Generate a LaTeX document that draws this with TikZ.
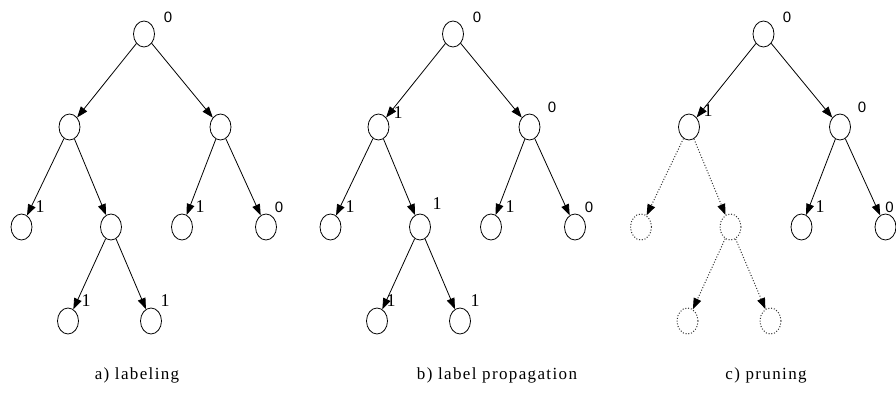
\documentclass[tikz,border=0pt]{standalone}
\usepackage{fontspec}
\setmainfont{Liberation Serif}
\newfontfamily\zerofont{Liberation Sans}
\newfontfamily\capfont[LetterSpace=8]{Liberation Serif}
\usetikzlibrary{arrows.meta,shapes.geometric}
\tikzset{
 tnode/.style={draw, ellipse, minimum width=21pt, minimum height=26pt, inner sep=0pt, line width=0.8pt},
 pnode/.style={tnode, draw=black!80, line width=1pt, dash pattern=on 1pt off 1.8pt},
 arc/.style={line width=0.8pt, -{Triangle[length=11pt,width=8pt]}},
 parc/.style={line width=1pt, draw=black!80, dash pattern=on 1pt off 1.8pt, -{Triangle[length=11pt,width=8pt,color=black]}},
 onelab/.style={font=\fontsize{18}{18}\selectfont, inner sep=0pt},
 zerolab/.style={font=\zerofont\fontsize{15}{15}\selectfont, inner sep=0pt},
 captext/.style={font=\capfont\fontsize{17}{17}\selectfont, inner sep=0pt}
}
\begin{document}
\begin{tikzpicture}[x=1pt,y=-1pt]
\useasboundingbox (0,0) rectangle (896,392);
\clip (0,0) rectangle (896,392);
% ---------- a) labeling ----------
\begin{scope}
\node[tnode] (ar) at (144,34) {};
\node[tnode] (aL) at (69.5,127) {};
\node[tnode] (aR) at (220.5,127) {};
\node[tnode] (aLL) at (21.5,227) {};
\node[tnode] (aLR) at (111,227) {};
\node[tnode] (aRL) at (182,227) {};
\node[tnode] (aRR) at (266,227) {};
\node[tnode] (aLRL) at (68,321) {};
\node[tnode] (aLRR) at (151,321) {};
\draw[arc] (ar) -- (aL);
\draw[arc] (ar) -- (aR);
\draw[arc] (aL) -- (aLL);
\draw[arc] (aL) -- (aLR);
\draw[arc] (aR) -- (aRL);
\draw[arc] (aR) -- (aRR);
\draw[arc] (aLR) -- (aLRL);
\draw[arc] (aLR) -- (aLRR);
\node[zerolab] (at0) at (168,17) {0};
\node[onelab] (at1) at (40,207) {1};
\node[onelab] (at2) at (200,207) {1};
\node[zerolab] (at3) at (279,207) {0};
\node[onelab] (at4) at (86,301) {1};
\node[onelab] (at5) at (165,301) {1};
\node[captext] (acap) at (137,375) {a) labeling};
\end{scope}
% ---------- b) label propagation ----------
\begin{scope}[xshift=309pt]
\node[tnode] (br) at (144,34) {};
\node[tnode] (bL) at (69.5,127) {};
\node[tnode] (bR) at (220.5,127) {};
\node[tnode] (bLL) at (21.5,227) {};
\node[tnode] (bLR) at (111,227) {};
\node[tnode] (bRL) at (182,227) {};
\node[tnode] (bRR) at (266,227) {};
\node[tnode] (bLRL) at (68,321) {};
\node[tnode] (bLRR) at (151,321) {};
\draw[arc] (br) -- (bL);
\draw[arc] (br) -- (bR);
\draw[arc] (bL) -- (bLL);
\draw[arc] (bL) -- (bLR);
\draw[arc] (bR) -- (bRL);
\draw[arc] (bR) -- (bRR);
\draw[arc] (bLR) -- (bLRL);
\draw[arc] (bLR) -- (bLRR);
\node[zerolab] (bt0) at (168,17) {0};
\node[onelab] (bt1) at (89,113) {1};
\node[zerolab] (bt2) at (243,107) {0};
\node[onelab] (bt3) at (41,207) {1};
\node[onelab] (bt4) at (128,204) {1};
\node[onelab] (bt5) at (201,207) {1};
\node[zerolab] (bt6) at (280,207) {0};
\node[onelab] (bt7) at (82,301) {1};
\node[onelab] (bt8) at (166,301) {1};
\node[captext] (bcap) at (188,375) {b) label propagation};
\end{scope}
% ---------- c) pruning ----------
\begin{scope}[xshift=619.5pt]
\node[tnode] (cr) at (144,34) {};
\node[tnode] (cL) at (69.5,127) {};
\node[tnode] (cR) at (220.5,127) {};
\node[pnode] (cLL) at (21.5,227) {};
\node[pnode] (cLR) at (111,227) {};
\node[tnode] (cRL) at (182,227) {};
\node[tnode] (cRR) at (266,227) {};
\node[pnode] (cLRL) at (68,321) {};
\node[pnode] (cLRR) at (151,321) {};
\draw[arc] (cr) -- (cL);
\draw[arc] (cr) -- (cR);
\draw[parc] (cL) -- (cLL);
\draw[parc] (cL) -- (cLR);
\draw[arc] (cR) -- (cRL);
\draw[arc] (cR) -- (cRR);
\draw[parc] (cLR) -- (cLRL);
\draw[parc] (cLR) -- (cLRR);
\node[zerolab] (ct0) at (167.5,17) {0};
\node[onelab] (ct1) at (88.5,111) {1};
\node[zerolab] (ct2) at (242.5,107) {0};
\node[onelab] (ct3) at (200.5,207) {1};
\node[zerolab] (ct4) at (270,207) {0};
\node[captext] (ccap) at (146.5,375) {c) pruning};
\end{scope}
\end{tikzpicture}
\end{document}
